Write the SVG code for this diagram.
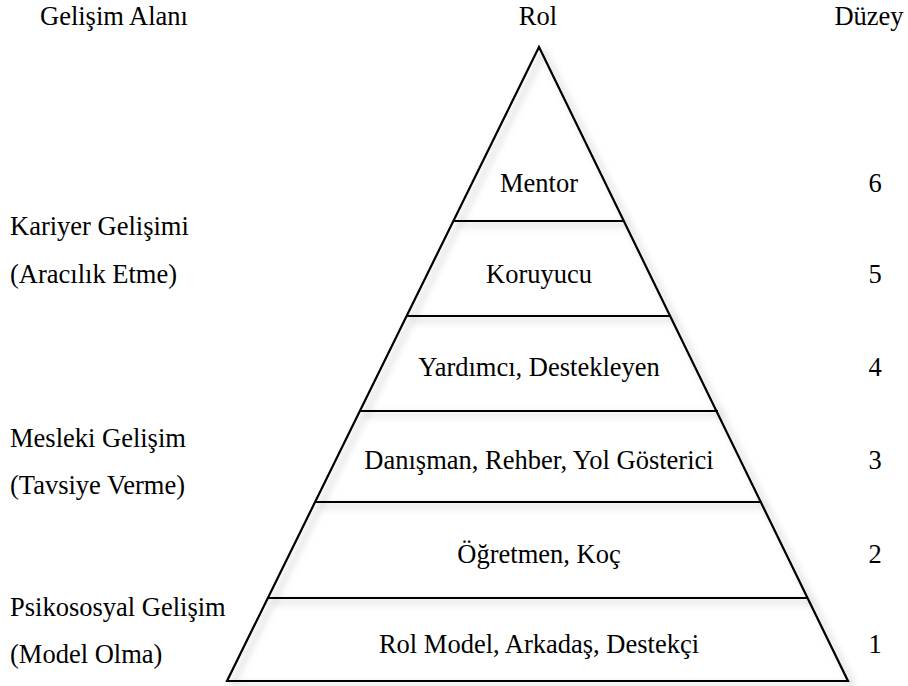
<svg xmlns="http://www.w3.org/2000/svg" width="908" height="686" viewBox="0 0 908 686">
<defs>
<filter id="sh" x="-10%" y="-10%" width="120%" height="120%">
<feDropShadow dx="5" dy="4" stdDeviation="3.5" flood-color="#000" flood-opacity="0.25"/>
</filter>
<style>
text{font-family:"Liberation Serif","Times New Roman",serif;font-size:26.5px;fill:#000}
.c{text-anchor:middle}
.ln{stroke:#000;stroke-width:2.2;fill:none}
</style>
</defs>
<rect width="908" height="686" fill="#fff"/>
<g id="headers">
<text x="40" y="25">Gelişim Alanı</text>
<text class="c" x="538" y="25">Rol</text>
<text class="c" x="869" y="25">Düzey</text>
</g>
<g id="pyramid" filter="url(#sh)">
<polygon class="ln" points="539,47 848,681 227,681" fill="#fff"/>
</g>
<g id="connectors" filter="url(#sh)">
<line class="ln" x1="454" y1="221" x2="624" y2="221"/>
<line class="ln" x1="407" y1="316" x2="671" y2="316"/>
<line class="ln" x1="360" y1="411" x2="718" y2="411"/>
<line class="ln" x1="315" y1="502" x2="762" y2="502"/>
<line class="ln" x1="268" y1="598" x2="808" y2="598"/>
</g>
<g id="level6"><text class="c" x="539" y="192">Mentor</text><text class="c" x="875" y="192">6</text></g>
<g id="level5"><text class="c" x="539" y="283">Koruyucu</text><text class="c" x="875" y="283">5</text></g>
<g id="level4"><text class="c" x="539" y="376">Yardımcı, Destekleyen</text><text class="c" x="875" y="376">4</text></g>
<g id="level3"><text class="c" x="539" y="469">Danışman, Rehber, Yol Gösterici</text><text class="c" x="875" y="469">3</text></g>
<g id="level2"><text class="c" x="539" y="563">Öğretmen, Koç</text><text class="c" x="875" y="563">2</text></g>
<g id="level1"><text class="c" x="539" y="653">Rol Model, Arkadaş, Destekçi</text><text class="c" x="875" y="653">1</text></g>
<g id="area-career"><text x="10" y="235">Kariyer Gelişimi</text><text x="10" y="283">(Aracılık Etme)</text></g>
<g id="area-prof"><text x="10" y="447">Mesleki Gelişim</text><text x="10" y="494">(Tavsiye Verme)</text></g>
<g id="area-psy"><text x="10" y="616">Psikososyal Gelişim</text><text x="10" y="663">(Model Olma)</text></g>
</svg>
